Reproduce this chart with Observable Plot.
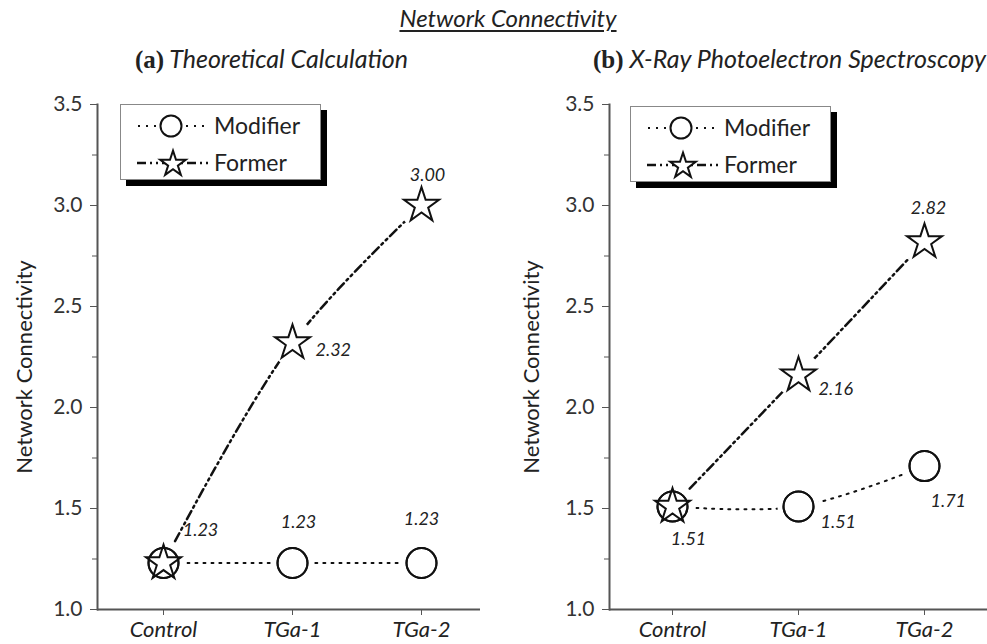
<!DOCTYPE html>
<html>
<head>
<meta charset="utf-8">
<script src="https://cdn.jsdelivr.net/npm/d3@7"></script>
<script src="https://cdn.jsdelivr.net/npm/@observablehq/plot@0.6"></script>
<style>
  html, body { margin: 0; padding: 0; background: #fff; }
  #root { position: relative; width: 987px; height: 644px; overflow: hidden; font-family: Lato, "Open Sans", sans-serif; color: #222; }
  .abs { position: absolute; white-space: nowrap; }
  .title { font-style: italic; font-size: 24px; text-decoration: underline; text-decoration-thickness: 2px; text-underline-offset: 3px; }
  .sub { font-size: 25px; font-style: italic; }
  .sub b { font-family: "Liberation Serif", "DejaVu Serif", serif; font-style: normal; font-weight: bold; font-size: 25px; }
  .legend { position: absolute; background: #fff; border: 1px solid #888; box-shadow: 6px 6px 0 #000; }
</style>
</head>
<body>
<div id="root"></div>
<script>
// ---- data ----
const categories = ["Control", "TGa-1", "TGa-2"];
const theoModifier = [1.23, 1.23, 1.23];
const theoFormer = [1.23, 2.32, 3.00];
const xpsModifier = [1.51, 1.51, 1.71];
const xpsFormer = [1.51, 2.16, 2.82];
const yTicks = [1.0, 1.5, 2.0, 2.5, 3.0, 3.5];
const yMinorTicks = [1.25, 1.75, 2.25, 2.75, 3.25];
const seriesNames = ["Modifier", "Former"];
const axisTitle = "Network Connectivity";
const mainTitle = "Network Connectivity";
const panelTitles = [["(a)", "Theoretical Calculation"], ["(b)", "X-Ray Photoelectron Spectroscopy"]];

const root = d3.select("#root");
const MOD_DASH = "2,6";
const FORM_DASH = "9,4,2,4,2,4";

function rows(values) {
  return categories.map((c, i) => ({cat: c, value: values[i], i}));
}

function lab(data, idx, dx, dy, anchor) {
  return Plot.text(data.filter(d => d.i === idx), {
    x: "cat", y: "value", text: d => d.value.toFixed(2),
    dx, dy, textAnchor: anchor, fontSize: 18, fontStyle: "italic", fill: "#222"
  });
}

function panel({modifier, former, width, marginLeft, marginRight, xRange, yLabelDx, labels}) {
  const mod = rows(modifier);
  const form = rows(former);
  return Plot.plot({
    width, height: 564,
    marginLeft, marginRight, marginTop: 24, marginBottom: 35,
    style: {fontFamily: "Lato, 'Open Sans', sans-serif", background: "transparent", overflow: "visible"},
    x: {type: "point", domain: categories, range: xRange, padding: 0},
    y: {domain: [1, 3.5]},
    marks: [
      Plot.ruleY([1], {stroke: "#555", strokeWidth: 2}),
      Plot.frame({anchor: "left", stroke: "#555", strokeWidth: 2}),
      Plot.axisY({ticks: yMinorTicks, tickSize: 5, tickFormat: () => "", label: null, stroke: "#555"}),
      Plot.axisY({ticks: yTicks, tickSize: 7, tickPadding: 8, tickFormat: d => d.toFixed(1), fontSize: 21, label: null, stroke: "#555", fill: "#333"}),
      Plot.axisX({tickSize: 6, tickPadding: 6, fontSize: 22, fontStyle: "italic", label: null, stroke: "#555", fill: "#222"}),
      Plot.line(mod, {x: "cat", y: "value", curve: "catmull-rom", stroke: "#111", strokeWidth: 2, strokeDasharray: MOD_DASH}),
      Plot.line(form, {x: "cat", y: "value", curve: "catmull-rom", stroke: "#111", strokeWidth: 2.5, strokeDasharray: FORM_DASH}),
      Plot.dot(mod, {x: "cat", y: "value", r: 21, fill: "white", stroke: null}),
      Plot.dot(form, {x: "cat", y: "value", r: 23, fill: "white", stroke: null}),
      Plot.dot(mod, {x: "cat", y: "value", r: 15, fill: "white", stroke: "#111", strokeWidth: 2}),
      Plot.dot(form, {x: "cat", y: "value", symbol: "star", r: 11, fill: "white", stroke: "#111", strokeWidth: 2}),
      Plot.dot(mod, {x: "cat", y: "value", r: 15, fill: "none", stroke: "#111", strokeWidth: 2}),
      ...labels(mod, form),
      Plot.text([axisTitle], {frameAnchor: "left", textAnchor: "middle", rotate: -90, dx: yLabelDx, dy: 10, fontSize: 22, fill: "#222"})
    ]
  });
}

// titles
root.append("div").attr("class", "abs title").style("left", "508px").style("top", "3px").style("transform", "translateX(-50%)").text(mainTitle);
root.append("div").attr("class", "abs sub").style("left", "135px").style("top", "43px")
  .html(`<b>${panelTitles[0][0]}</b> ${panelTitles[0][1]}`);
root.append("div").attr("class", "abs sub").style("left", "593px").style("top", "43px")
  .html(`<b>${panelTitles[1][0]}</b> ${panelTitles[1][1]}`);

const left = panel({
  modifier: theoModifier, former: theoFormer,
  width: 490, marginLeft: 97, marginRight: 10, xRange: [163, 421], yLabelDx: -73,
  labels: (mod, form) => [
    lab(form, 2, 6, -30, "middle"),
    lab(form, 1, 23, 7, "start"),
    lab(mod, 0, 37, -33, "middle"),
    lab(mod, 1, 6, -41, "middle"),
    lab(mod, 2, 0, -44, "middle")
  ]
});
const right = panel({
  modifier: xpsModifier, former: xpsFormer,
  width: 494, marginLeft: 116, marginRight: 0, xRange: [179, 431], yLabelDx: -78,
  labels: (mod, form) => [
    lab(form, 2, 4, -34, "middle"),
    lab(form, 1, 20, 14, "start"),
    lab(mod, 0, 16, 33, "middle"),
    lab(mod, 1, 22, 16, "start"),
    lab(mod, 2, 6, 35, "start")
  ]
});
root.append(() => left).style("position", "absolute").style("left", "0px").style("top", "80px");
root.append(() => right).style("position", "absolute").style("left", "493px").style("top", "80px");

// legends
function legend(x, y) {
  const box = root.append("div").attr("class", "legend")
    .style("left", x + "px").style("top", y + "px").style("width", "199px").style("height", "74px");
  const svg = box.append("svg").attr("width", 199).attr("height", 74).style("display", "block");
  const rowsY = [21, 58];
  svg.append("line").attr("x1", 17).attr("x2", 88).attr("y1", rowsY[0]).attr("y2", rowsY[0])
    .attr("stroke", "#111").attr("stroke-width", 2).attr("stroke-dasharray", MOD_DASH);
  svg.append("circle").attr("cx", 50).attr("cy", rowsY[0]).attr("r", 10.5)
    .attr("fill", "white").attr("stroke", "#111").attr("stroke-width", 2);
  svg.append("line").attr("x1", 16).attr("x2", 90).attr("y1", rowsY[1]).attr("y2", rowsY[1])
    .attr("stroke", "#111").attr("stroke-width", 2.5).attr("stroke-dasharray", FORM_DASH);
  svg.append("path").attr("d", d3.symbol(d3.symbolStar, Math.PI * 8 * 8)())
    .attr("transform", `translate(52,${rowsY[1] + 1})`)
    .attr("fill", "white").attr("stroke", "#111").attr("stroke-width", 2);
  seriesNames.forEach((n, k) => {
    svg.append("text").attr("x", 93).attr("y", rowsY[k]).attr("dy", "0.35em")
      .attr("font-size", 23).attr("fill", "#222").attr("font-family", "Lato, 'Open Sans', sans-serif").text(n);
  });
}
legend(120, 104);
legend(630, 106);
</script>
</body>
</html>
